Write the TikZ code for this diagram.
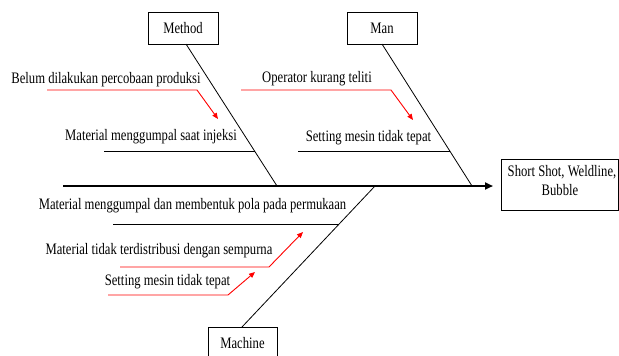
\documentclass[tikz,border=0pt]{standalone}
\usepackage{fontspec}
\setmainfont[FakeStretch=0.79]{Liberation Serif}
\usetikzlibrary{arrows.meta}
\begin{document}
\begin{tikzpicture}[x=1pt,y=-1pt,
  catbox/.style={draw,line width=1pt,inner sep=0pt,font=\fontsize{16}{19}\selectfont},
  lbl/.style={inner sep=0pt,anchor=base,font=\fontsize{16}{19}\selectfont},
  bone/.style={line width=0.8pt},
  subbone/.style={line width=1pt},
  cause/.style={red,line width=0.9pt,-{Triangle[length=6pt,width=5pt]}},
  spine/.style={line width=2pt,-{Triangle[length=8pt,width=7pt]}}]
\useasboundingbox (0,0) rectangle (619,356);
% category boxes
\node[catbox,minimum width=70pt,minimum height=32pt] (method) at (183,28) {};
\node[lbl] (methodt) at (183,34) {Method};
\node[catbox,minimum width=70pt,minimum height=32pt] (man) at (382,28) {};
\node[lbl] (mant) at (382,34) {Man};
\node[catbox,minimum width=69pt,minimum height=34pt] (machine) at (242.5,344) {};
\node[lbl] (machinet) at (242.5,348) {Machine};
\node[catbox,minimum width=117pt,minimum height=51pt] (effect) at (559.5,184.5) {};
\node[lbl] (eff1) at (562,176) {Short Shot, Weldline,};
\node[lbl] (eff2) at (560,195) {Bubble};
% spine
\coordinate (spL) at (63,186);
\coordinate (spR) at (493,186);
\draw[spine] (spL) -- (spR);
% bones
\coordinate (mtop) at (186,44);
\coordinate (mbot) at (277,186);
\coordinate (ntop) at (382,44);
\coordinate (nbot) at (472,186);
\coordinate (ctop) at (375,186);
\coordinate (cbot) at (242,327);
\draw[bone] (mtop) -- (mbot);
\draw[bone] (ntop) -- (nbot);
\draw[bone] (cbot) -- (ctop);
% labels
\node[lbl] (l1) at (106,83) {Belum dilakukan percobaan produksi};
\node[lbl] (l2) at (151,140) {Material menggumpal saat injeksi};
\node[lbl] (l3) at (317,82) {Operator kurang teliti};
\node[lbl] (l4) at (368.5,141) {Setting mesin tidak tepat};
\node[lbl] (l5) at (192.5,209) {Material menggumpal dan membentuk pola pada permukaan};
\node[lbl] (l6) at (159,254) {Material tidak terdistribusi dengan sempurna};
\node[lbl] (l7) at (167.5,285) {Setting mesin tidak tepat};
% sub-bones
\coordinate (s1a) at (104,151); \coordinate (s1b) at (254.6,151);
\coordinate (s2a) at (298,151); \coordinate (s2b) at (449.8,151);
\coordinate (s3a) at (113,224); \coordinate (s3b) at (339.2,224);
\draw[subbone] (s1a) -- (s1b);
\draw[subbone] (s2a) -- (s2b);
\draw[subbone] (s3a) -- (s3b);
% red cause arrows
\coordinate (r1a) at (47,90); \coordinate (r1b) at (197,90); \coordinate (r1c) at (218,119);
\coordinate (r2a) at (241,90); \coordinate (r2b) at (391,90); \coordinate (r2c) at (413,120);
\coordinate (r3a) at (120,267); \coordinate (r3b) at (269,267); \coordinate (r3c) at (303,232);
\coordinate (r4a) at (108,295); \coordinate (r4b) at (228,295); \coordinate (r4c) at (255,272);
\draw[cause] (r1a) -- (r1b) -- (r1c);
\draw[cause] (r2a) -- (r2b) -- (r2c);
\draw[cause] (r3a) -- (r3b) -- (r3c);
\draw[cause] (r4a) -- (r4b) -- (r4c);
\end{tikzpicture}
\end{document}
